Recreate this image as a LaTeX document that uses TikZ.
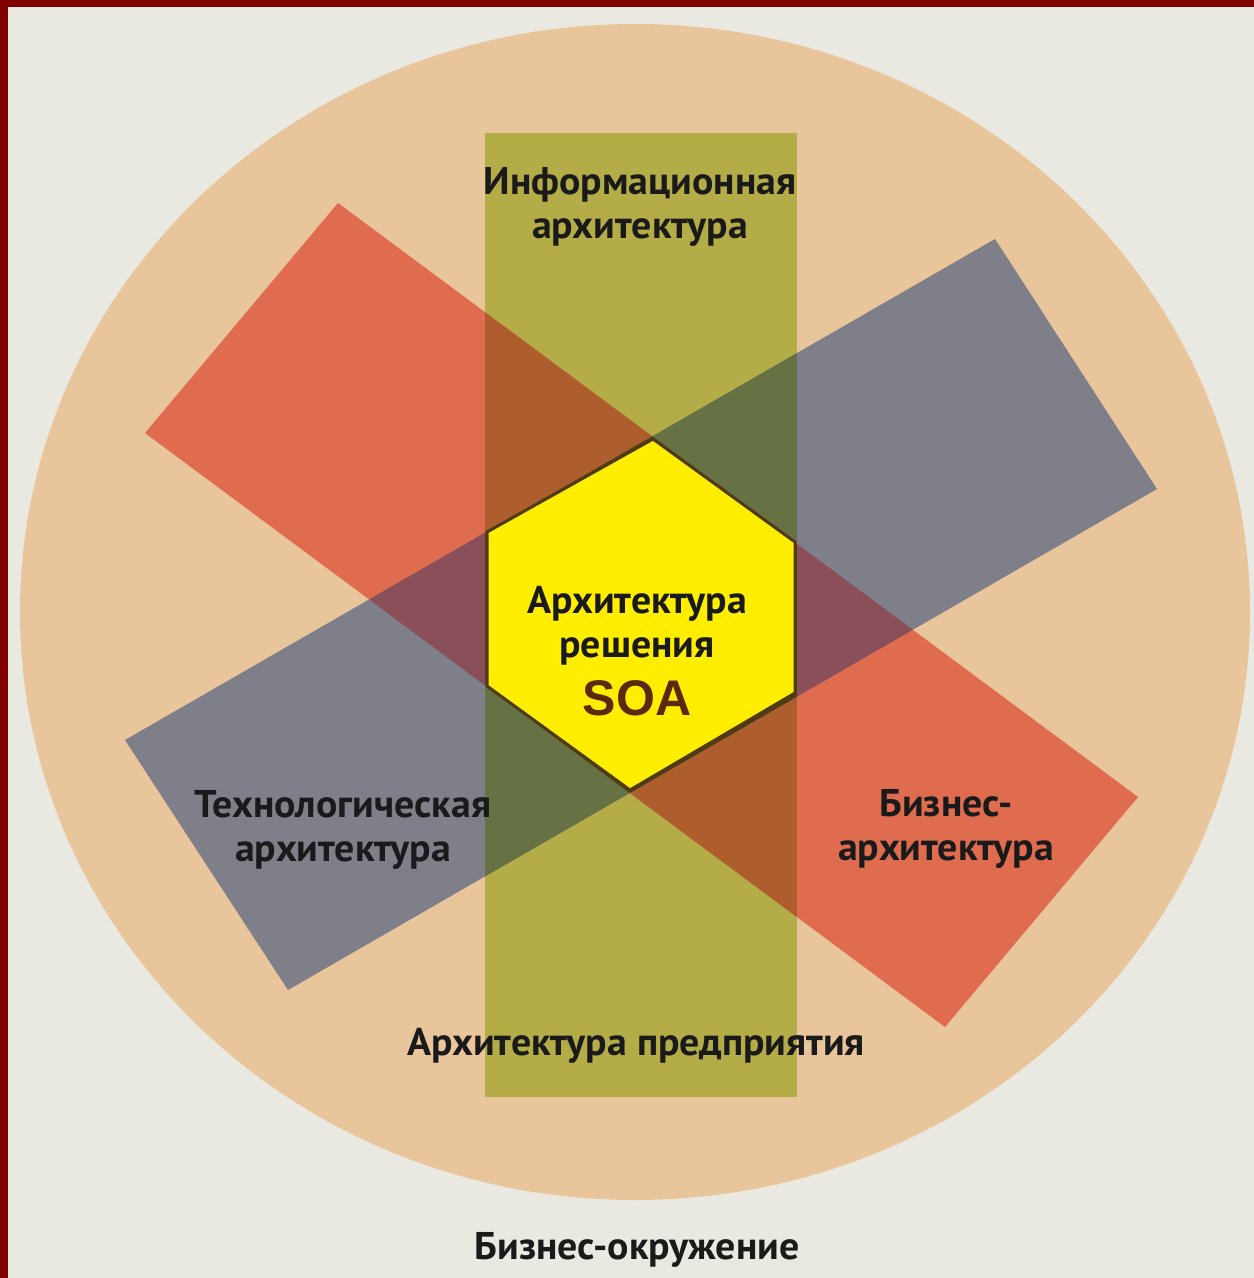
\documentclass[tikz,border=0pt]{standalone}
\usepackage{fontspec}
\setmainfont{PT Sans}
\newfontfamily\labfont[FakeStretch=1.03]{PT Sans}
\newfontfamily\soafont{Liberation Sans}
\definecolor{bgc}{HTML}{EAE9E1}
\definecolor{framec}{HTML}{800000}
\definecolor{peach}{HTML}{E9C59B}
\definecolor{olivec}{HTML}{B4AD47}
\definecolor{redc}{HTML}{E06C4F}
\definecolor{grayc}{HTML}{7F7F8A}
\definecolor{redolive}{HTML}{AE5E2C}
\definecolor{grayolive}{HTML}{677244}
\definecolor{redgray}{HTML}{8A4F58}
\definecolor{hexfill}{HTML}{FFEE00}
\definecolor{hexline}{HTML}{4F3A12}
\definecolor{txtc}{HTML}{1A1A1A}
\definecolor{soac}{HTML}{5A2A0A}
\tikzset{
  lab/.style={font=\labfont\bfseries\fontsize{22}{25}\selectfont, text=txtc, align=center, inner sep=0pt},
  soalab/.style={font=\soafont\bfseries\fontsize{28.5}{30}\selectfont, text=soac, inner sep=0pt}
}
\def\greenpath{(485,133) rectangle (797,1097)}
\def\redpath{(338,203) -- (1138,797) -- (945,1027) -- (145,433) -- cycle}
\def\graypath{(995,239) -- (1157,489) -- (288,990) -- (125,740) -- cycle}
\begin{document}
\begin{tikzpicture}[x=0.02cm,y=-0.02cm]
\useasboundingbox (0,0) rectangle (1254,1278);
\fill[bgc] (0,0) rectangle (1254,1278);
\fill[framec] (0,0) rectangle (1254,7);
\fill[framec] (0,0) rectangle (8,1278);
\fill[peach] (635,612) ellipse [x radius=615, y radius=588];
\fill[olivec] \greenpath;
\fill[redc] \redpath;
\fill[grayc] \graypath;
\begin{scope}
  \clip \redpath;
  \fill[redolive] \greenpath;
  \fill[redgray] \graypath;
\end{scope}
\begin{scope}
  \clip \graypath;
  \fill[grayolive] \greenpath;
\end{scope}
\begin{scope}
  \clip \redpath;
  \clip \graypath;
  \fill[hexline] \greenpath;
\end{scope}
\filldraw[fill=hexfill, draw=hexline, line width=0.06cm, line join=miter]
  (653,439) -- (795,542) -- (795,693) -- (630,790) -- (487,686) -- (487,532) -- cycle;
\node[lab] (info) at (640,207) {Информационная\\архитектура};
\node[lab] (sol) at (637,626) {Архитектура\\решения};
\node[soalab] (soa) at (637,698) {SOA};
\node[lab] (tech) at (343,830) {Технологическая\\архитектура};
\node[lab] (bus) at (946,829) {Бизнес-\\архитектура};
\node[lab] (ent) at (636,1046) {Архитектура предприятия};
\node[lab] (env) at (637,1250) {Бизнес-окружение};
\end{tikzpicture}
\end{document}
